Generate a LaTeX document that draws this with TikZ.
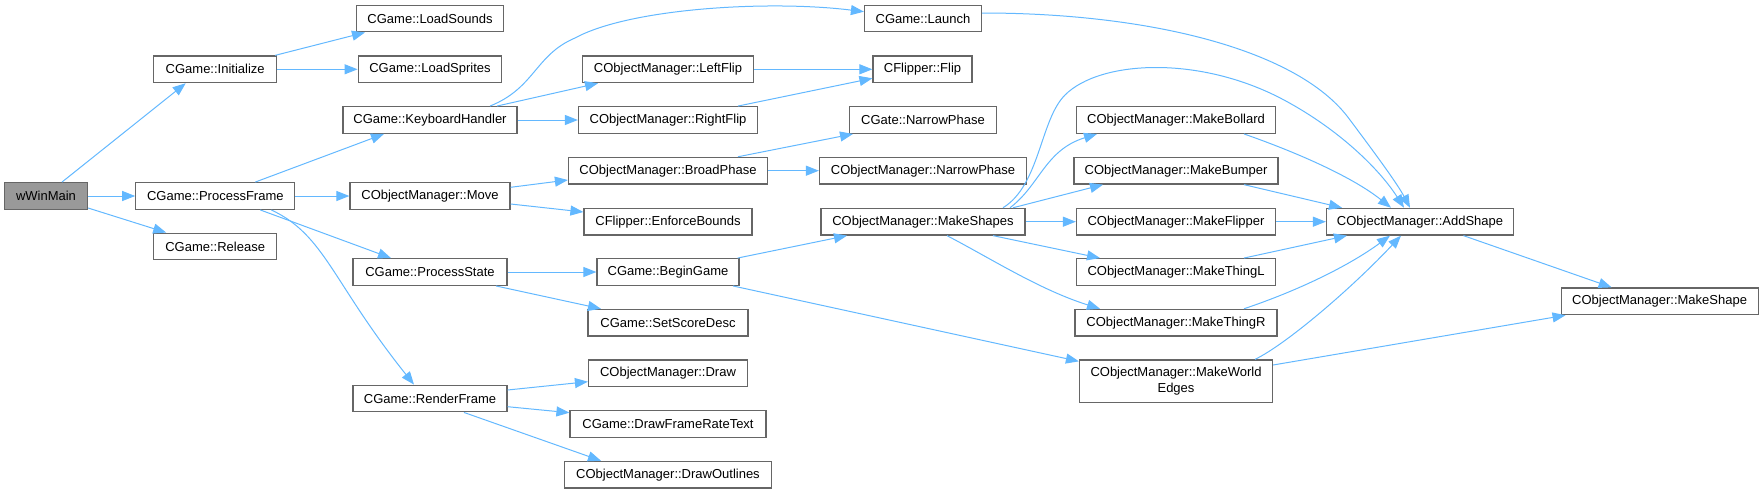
\documentclass[tikz,border=0pt]{standalone}
\usepackage{fontspec}
\setmainfont{Liberation Sans}
\usetikzlibrary{arrows.meta}
\definecolor{edgeblue}{HTML}{63B8FF}
\definecolor{nodegray}{HTML}{666666}
\definecolor{rootfill}{HTML}{999999}
\begin{document}
\begin{tikzpicture}[x=1pt,y=-1pt,
  box/.style={draw=nodegray, fill=white, line width=1.2pt, inner sep=0pt,
    minimum height=26.7pt, font=\fontsize{13}{16}\selectfont, text=black},
  root/.style={box, fill=rootfill},
  edge/.style={draw=edgeblue, line width=1pt, -{Triangle[length=13pt,width=10pt]}}]
\useasboundingbox (0,0) rectangle (1763,493);

% column 1
\node[root, minimum width=83pt] (wmain) at (46,196) {wWinMain};
% column 2
\node[box, minimum width=123pt] (init) at (215.2,69.3) {CGame::Initialize};
\node[box, minimum width=159pt] (pframe) at (215.3,196) {CGame::ProcessFrame};
\node[box, minimum width=123pt] (release) at (215.2,246.5) {CGame::Release};
% column 3
\node[box, minimum width=147pt] (lsounds) at (430,18.5) {CGame::LoadSounds};
\node[box, minimum width=143.6pt] (lsprites) at (430,69.3) {CGame::LoadSprites};
\node[box, minimum width=174pt] (kh) at (430,120) {CGame::KeyboardHandler};
\node[box, minimum width=160pt] (move) at (430,196) {CObjectManager::Move};
\node[box, minimum width=154pt] (pstate) at (430,272) {CGame::ProcessState};
\node[box, minimum width=154pt] (render) at (430,398.5) {CGame::RenderFrame};
% column 4
\node[box, minimum width=171pt] (lflip) at (668,69.3) {CObjectManager::LeftFlip};
\node[box, minimum width=179pt] (rflip) at (668,120) {CObjectManager::RightFlip};
\node[box, minimum width=199pt] (bphase) at (668,170.7) {CObjectManager::BroadPhase};
\node[box, minimum width=168pt] (enforce) at (668,221.7) {CFlipper::EnforceBounds};
\node[box, minimum width=142pt] (bgame) at (668,272) {CGame::BeginGame};
\node[box, minimum width=160pt] (score) at (668,322.7) {CGame::SetScoreDesc};
\node[box, minimum width=159pt] (draw) at (668,373.3) {CObjectManager::Draw};
\node[box, minimum width=196pt] (dfrt) at (668,424) {CGame::DrawFrameRateText};
\node[box, minimum width=207pt] (doutl) at (668,474.7) {CObjectManager::DrawOutlines};
% column 5
\node[box, minimum width=117pt] (launch) at (923,18.5) {CGame::Launch};
\node[box, minimum width=99pt] (flip) at (922.5,69.3) {CFlipper::Flip};
\node[box, minimum width=147pt] (gate) at (923,120) {CGate::NarrowPhase};
\node[box, minimum width=207pt] (onarrow) at (923,170.7) {CObjectManager::NarrowPhase};
\node[box, minimum width=204pt] (mshapes) at (923,221.7) {CObjectManager::MakeShapes};
% column 6
\node[box, minimum width=199pt] (mbollard) at (1176,120) {CObjectManager::MakeBollard};
\node[box, minimum width=204pt] (mbumper) at (1176,170.7) {CObjectManager::MakeBumper};
\node[box, minimum width=199pt] (mflipper) at (1176,221.7) {CObjectManager::MakeFlipper};
\node[box, minimum width=199pt] (mthingl) at (1176,272) {CObjectManager::MakeThingL};
\node[box, minimum width=202pt] (mthingr) at (1176,322.7) {CObjectManager::MakeThingR};
\node[box, minimum width=193pt, minimum height=42.7pt, align=center] (mwe) at (1176,381.3) {CObjectManager::MakeWorld\\Edges};
% column 7
\node[box, minimum width=187pt] (addshape) at (1420,221.7) {CObjectManager::AddShape};
% column 8
\node[box, minimum width=197pt] (mshape) at (1659.6,301.3) {CObjectManager::MakeShape};

% edges
\draw[edge] ([xshift=16pt]wmain.north) -- ([xshift=-29.5pt]init.south);
\draw[edge] (wmain.east) -- (pframe.west);
\draw[edge] ([yshift=-12pt]wmain.east) -- ([xshift=-49pt]release.north);

\draw[edge] ([xshift=60pt]init.north) -- ([xshift=-65pt]lsounds.south);
\draw[edge] (init.east) -- (lsprites.west);

\draw[edge] ([xshift=40pt]pframe.north) -- ([xshift=-46pt]kh.south);
\draw[edge] (pframe.east) -- (move.west);
\draw[edge] ([xshift=45pt]pframe.south) -- ([xshift=-39pt]pstate.north);
\draw[edge] ([xshift=56pt]pframe.south) .. controls (325,235) and (332,282) .. ([xshift=-16pt]render.north);

\draw[edge] ([xshift=60pt]kh.north) .. controls (535,88) and (535,55) .. (575,38)
  .. controls (630,8) and (770,0) .. ([yshift=6.8pt]launch.west);
\draw[edge] ([xshift=67pt]kh.north) -- ([xshift=-70pt]lflip.south);
\draw[edge] (kh.east) -- (rflip.west);

\draw[edge] (lflip.east) -- (flip.west);
\draw[edge] ([xshift=70pt]rflip.north) -- ([yshift=-9pt]flip.west);

\draw[edge] ([yshift=8.7pt]move.east) -- ([yshift=-9.3pt]bphase.west);
\draw[edge] ([yshift=-8pt]move.east) -- ([yshift=9.7pt]enforce.west);

\draw[edge] ([xshift=70pt]bphase.north) -- ([xshift=-70pt]gate.south);
\draw[edge] (bphase.east) -- (onarrow.west);

\draw[edge] (pstate.east) -- (bgame.west);
\draw[edge] ([xshift=66pt]pstate.south) -- ([xshift=-67pt]score.north);

\draw[edge] ([yshift=8.5pt]render.east) -- ([yshift=-8.4pt]draw.west);
\draw[edge] ([yshift=-8.2pt]render.east) -- ([yshift=11.3pt]dfrt.west);
\draw[edge] ([xshift=34pt]render.south) -- ([xshift=-67pt]doutl.north);

\draw[edge] ([xshift=-2pt]bgame.north east) -- ([xshift=-76pt]mshapes.south);
\draw[edge] ([xshift=65pt]bgame.south) -- ([yshift=-2pt]mwe.north west);

\draw[edge] ([yshift=5.5pt]launch.east) .. controls (1150,13) and (1300,50) .. (1350,120)
  .. controls (1380,160) and (1398,185) .. ([xshift=-10pt]addshape.north);

\draw[edge] ([xshift=80pt]mshapes.north) .. controls (1040,185) and (1040,120) .. (1065,95)
  .. controls (1100,60) and (1200,55) .. (1284,100)
  .. controls (1340,130) and (1380,170) .. ([xshift=-16pt]addshape.north);
\draw[edge] ([xshift=87pt]mshapes.north) .. controls (1040,185) and (1045,150) .. ([xshift=-79pt]mbollard.south);
\draw[edge] ([xshift=90pt]mshapes.north) -- ([xshift=-73pt]mbumper.south);
\draw[edge] (mshapes.east) -- (mflipper.west);
\draw[edge] ([xshift=70pt]mshapes.south) -- ([xshift=-76pt]mthingl.north);
\draw[edge] ([xshift=24pt]mshapes.south) .. controls (990,258) and (1040,290) .. ([xshift=-76pt]mthingr.north);

\draw[edge] ([xshift=68pt]mbollard.south) .. controls (1290,150) and (1350,175) .. ([xshift=-29pt]addshape.north);
\draw[edge] ([xshift=68pt]mbumper.south) -- ([xshift=-78pt]addshape.north);
\draw[edge] (mflipper.east) -- (addshape.west);
\draw[edge] ([xshift=68pt]mthingl.north) -- ([xshift=-73pt]addshape.south);
\draw[edge] ([xshift=68pt]mthingr.north) .. controls (1300,290) and (1350,265) .. ([xshift=-30pt]addshape.south);
\draw[edge] ([xshift=79pt]mwe.north) .. controls (1285,345) and (1350,290) .. ([xshift=-19pt]addshape.south);
\draw[edge] ([yshift=16.3pt]mwe.east) -- ([xshift=5pt]mshape.south west);

\draw[edge] ([xshift=43.5pt]addshape.south) -- ([xshift=-48pt]mshape.north);
\end{tikzpicture}
\end{document}
